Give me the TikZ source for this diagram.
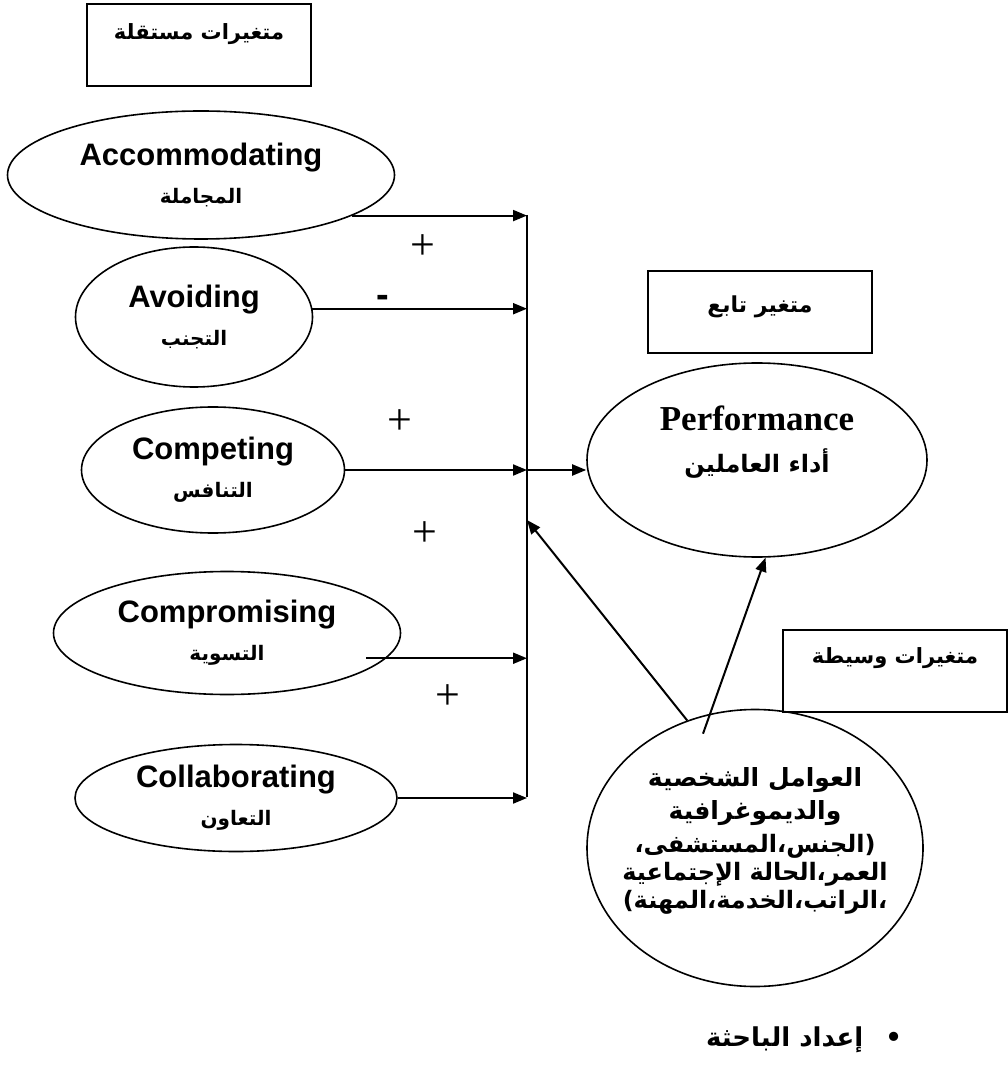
\documentclass[tikz,border=0pt]{standalone}
\usepackage{fontspec}
\setmainfont{Liberation Sans}
\newfontfamily\arabicfont[Script=Arabic]{DejaVu Sans}
\newfontfamily\timesfont{Liberation Serif}
\TeXXeTstate=1
\usetikzlibrary{shapes.geometric,arrows.meta}
\newcommand{\ar}[1]{{\arabicfont\bfseries\beginR #1\endR}}

\begin{document}
\begin{tikzpicture}[x=0.5pt, y=-0.5pt, line width=1pt,
        >={Triangle[length=7pt,width=5.5pt]},
        main/.style = {draw, ellipse, inner sep=0pt, align=center, line width=0.8pt, font=\fontsize{15.5}{19}\selectfont\bfseries},
        boxed/.style = {draw, rectangle, inner sep=0pt, line width=1.2pt, minimum width=112pt, minimum height=41pt, font=\fontsize{10.5}{12}\selectfont},
        sign/.style = {font=\timesfont\fontsize{22}{22}\selectfont}]
        \useasboundingbox (0,0) rectangle (1007,1068);

        \node[boxed, text height=18pt, text depth=23pt] (indep) at (199,45) {\ar{متغيرات مستقلة}};
        \node[boxed, text height=20.5pt, text depth=20pt, font=\fontsize{11}{13}\selectfont] (dep) at (760,312) {\ar{متغير تابع}};
        \node[boxed, text height=16.5pt, text depth=24.5pt] (med) at (895,671) {\ar{متغيرات وسيطة}};

        \node[main, minimum width=193.5pt, minimum height=64pt] (acc) at (201,175) {Accommodating\\ \ar{\fontsize{10}{12}\selectfont المجاملة}};
        \node[main, minimum width=118.5pt, minimum height=70pt] (avo) at (194,317) {Avoiding\\ \ar{\fontsize{10}{12}\selectfont التجنب}};
        \node[main, minimum width=131.5pt, minimum height=63pt] (comp) at (213,470) {Competing\\ \ar{\fontsize{10}{12}\selectfont التنافس}};
        \node[main, minimum width=173.5pt, minimum height=61.5pt] (compr) at (227,633) {Compromising\\ \ar{\fontsize{10}{12}\selectfont التسوية}};
        \node[main, minimum width=161pt, minimum height=53.5pt] (coll) at (236,798) {Collaborating\\ \ar{\fontsize{10}{12}\selectfont التعاون}};

        \node[main, minimum width=170pt, minimum height=97pt, font=\timesfont\bfseries\fontsize{17.5}{21}\selectfont] (perf) at (757,460) {Performance\\ \ar{\fontsize{12}{14}\selectfont أداء العاملين}\\ \mbox{}};
        \node[main, minimum width=168pt, minimum height=138.5pt, inner xsep=-8pt, font=\fontsize{12}{14}\selectfont] (dem) at (755,848) {\ar{\fontsize{12.5}{14}\selectfont العوامل الشخصية}\\[2.5pt] \ar{\fontsize{12.5}{14}\selectfont والديموغرافية}\\[2.5pt] \ar{(الجنس،المستشفى،}\\ \ar{العمر،الحالة الإجتماعية}\\ \ar{،الراتب،الخدمة،المهنة)}\\[-4pt] \mbox{}};

        \coordinate (bustop) at (527,215);
        \coordinate (busbot) at (527,797);
        \coordinate (busin) at (527,520);
        \draw (bustop) -- (busbot);

        \draw[->] (acc.-15) -- (acc.-15 -| bustop);
        \draw[->] (avo.4) -- (avo.4 -| bustop);
        \draw[->] (comp.east) -- (comp.east -| bustop);
        \draw[->] ([xshift=-10pt]compr.-9) -- (compr.-9 -| bustop);
        \draw[->] (coll.east) -- (coll.east -| bustop);

        \draw[->] (comp.east -| bustop) -- (perf.west |- comp.east);
        \draw[->] (dem.118) -- (busin);
        \draw[->] ([xshift=-26pt,yshift=-12.5pt]dem.north) -- (perf.-85);

        \node[sign] (p1) at (423,247) {+};
        \node[font=\fontsize{19}{19}\selectfont\bfseries] (m1) at (383,301) {-};
        \node[sign] (p2) at (400,422) {+};
        \node[sign] (p3) at (425,534) {+};
        \node[sign] (p4) at (448,697) {+};

        \node[font=\fontsize{13}{15}\selectfont] (note) at (804,1040) {\ar{•\hspace{11pt}إعداد الباحثة}};
    \end{tikzpicture}
\end{document}
